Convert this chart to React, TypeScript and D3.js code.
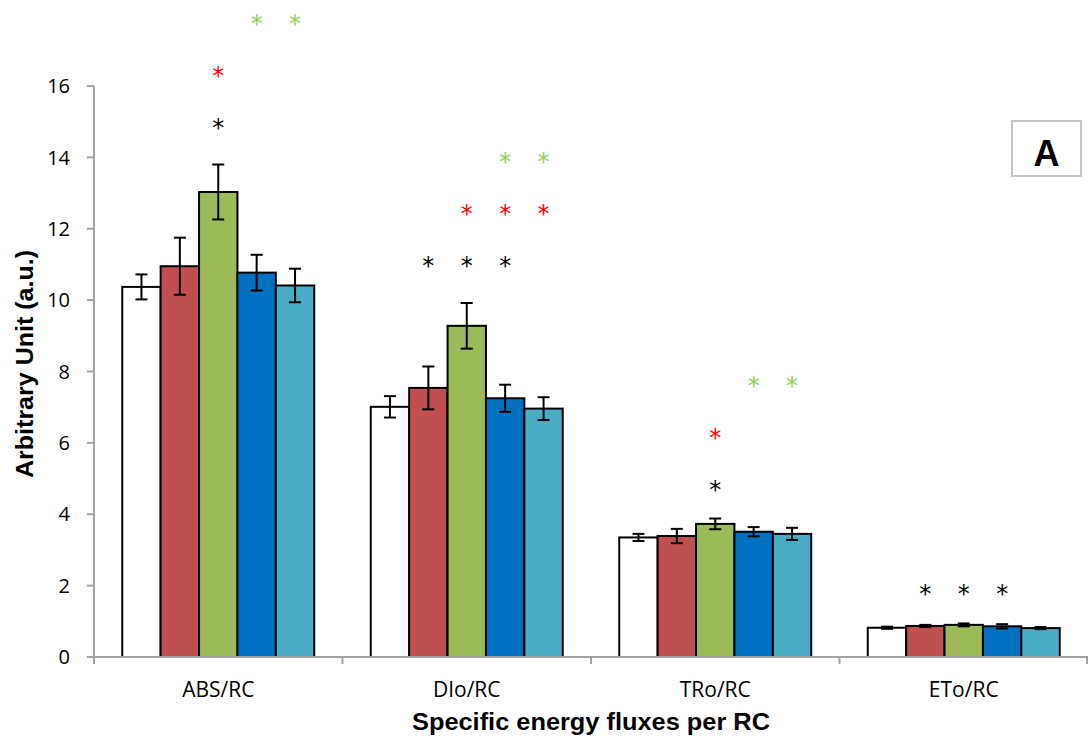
import React from "react";
import * as d3 from "d3";

// Specific energy fluxes per reaction centre, five treatments per parameter
const categories = ["ABS/RC", "DIo/RC", "TRo/RC", "ETo/RC"];
const seriesKeys = ["t1", "t2", "t3", "t4", "t5"];

const valuesT1 = [10.37, 7.01, 3.35, 0.82];
const valuesT2 = [10.95, 7.54, 3.39, 0.87];
const valuesT3 = [13.03, 9.28, 3.73, 0.9];
const valuesT4 = [10.77, 7.25, 3.51, 0.86];
const valuesT5 = [10.41, 6.96, 3.45, 0.81];

const errorsT1 = [0.35, 0.3, 0.1, 0.03];
const errorsT2 = [0.8, 0.6, 0.2, 0.03];
const errorsT3 = [0.77, 0.64, 0.15, 0.04];
const errorsT4 = [0.5, 0.38, 0.13, 0.06];
const errorsT5 = [0.47, 0.32, 0.17, 0.03];

const yTicks = [0, 2, 4, 6, 8, 10, 12, 14, 16];

// Significance marks: which treatments differ from treatment 1, 2 and 3
const sigVsT1 = [[2], [1, 2, 3], [2], [1, 2, 3]];
const sigVsT2 = [[2], [2, 3, 4], [2], []];
const sigVsT3 = [[3, 4], [3, 4], [3, 4], []];
// height (axis units) at which each row of marks sits, per category
const sigLevelVsT1 = [14.96, 11.1, 4.81, 1.9];
const sigLevelVsT2 = [16.41, 12.54, 6.28, 0];
const sigLevelVsT3 = [17.87, 14.0, 7.73, 0];

const seriesValues = [valuesT1, valuesT2, valuesT3, valuesT4, valuesT5];
const seriesErrors = [errorsT1, errorsT2, errorsT3, errorsT4, errorsT5];
const seriesFill = ["#FFFFFF", "#C0504D", "#9BBB59", "#0070C0", "#4BACC6"];
const markColors = ["#000000", "#FF0000", "#92D050"];

const W = 1088;
const H = 740;
const AXIS = "#a3a3a3";

export default function App() {
  const x = d3.scaleBand<string>().domain(categories).range([94, 1088]).padding(0);
  const bw = x.bandwidth();
  const inner = d3
    .scaleBand<string>()
    .domain(seriesKeys)
    .range([bw * 0.1137, bw * (1 - 0.1137)])
    .padding(0);
  const y = d3.scaleLinear().domain([0, 16]).range([657, 86]);

  const sigSets = [sigVsT1, sigVsT2, sigVsT3];
  const sigLevels = [sigLevelVsT1, sigLevelVsT2, sigLevelVsT3];
  const starSize = 24;

  return (
    <svg
      width={W}
      height={H}
      style={{ position: "absolute", left: 0, top: 0, background: "#fff" }}
    >
      {/* bars */}
      {categories.map((c, ci) => (
        <g key={c} transform={`translate(${x(c)},0)`}>
          {seriesKeys.map((s, si) => {
            const v = seriesValues[si][ci];
            const bx = inner(s)!;
            return (
              <rect
                key={s}
                x={bx}
                y={y(v)}
                width={inner.bandwidth()}
                height={y(0) - y(v)}
                fill={seriesFill[si]}
                stroke="#000"
                strokeWidth={2}
              />
            );
          })}
          {seriesKeys.map((s, si) => {
            const v = seriesValues[si][ci];
            const e = seriesErrors[si][ci];
            const cx = inner(s)! + inner.bandwidth() / 2;
            return (
              <g key={s} stroke="#000" strokeWidth={2}>
                <line x1={cx} x2={cx} y1={y(v + e)} y2={y(v - e)} />
                <line x1={cx - 6} x2={cx + 6} y1={y(v + e)} y2={y(v + e)} />
                <line x1={cx - 6} x2={cx + 6} y1={y(v - e)} y2={y(v - e)} />
              </g>
            );
          })}
          {sigSets.map((set, k) =>
            set[ci].map((si) => (
              <text
                key={`${k}-${si}`}
                x={inner(seriesKeys[si])! + inner.bandwidth() / 2}
                y={y(sigLevels[k][ci]) + starSize * 0.53}
                textAnchor="middle"
                fontFamily="DejaVu Sans"
                fontSize={starSize}
                fill={markColors[k]}
              >
                *
              </text>
            ))
          )}
        </g>
      ))}

      {/* y axis */}
      <line x1={94} x2={94} y1={y(16)} y2={y(0)} stroke={AXIS} strokeWidth={2} />
      {yTicks.map((t) => (
        <g key={t}>
          <line x1={87} x2={94} y1={y(t)} y2={y(t)} stroke={AXIS} strokeWidth={2} />
          <text
            x={70}
            y={y(t)}
            dy="0.36em"
            textAnchor="end"
            fontFamily="Open Sans"
            fontSize={20}
            fill="#000"
          >
            {t}
          </text>
        </g>
      ))}

      {/* x axis */}
      <line x1={94} x2={1088} y1={y(0)} y2={y(0)} stroke={AXIS} strokeWidth={2} />
      {categories.map((c) => (
        <line
          key={c}
          x1={x(c)!}
          x2={x(c)!}
          y1={y(0)}
          y2={y(0) + 7}
          stroke={AXIS}
          strokeWidth={2}
        />
      ))}
      <line x1={1087} x2={1087} y1={y(0)} y2={y(0) + 7} stroke={AXIS} strokeWidth={2} />
      {categories.map((c) => (
        <text
          key={c}
          x={x(c)! + bw / 2}
          y={697}
          textAnchor="middle"
          fontFamily="Open Sans"
          fontSize={21}
          fill="#000"
        >
          {c}
        </text>
      ))}

      {/* axis titles */}
      <text
        x={591}
        y={730}
        textAnchor="middle"
        fontFamily="Liberation Sans, Arial, sans-serif"
        fontWeight="bold"
        fontSize={23}
        textLength={358}
        lengthAdjust="spacingAndGlyphs"
        fill="#000"
      >
        Specific energy fluxes per RC
      </text>
      <text
        transform="translate(33,364) rotate(-90)"
        textAnchor="middle"
        fontFamily="Liberation Sans, Arial, sans-serif"
        fontWeight="bold"
        fontSize={23}
        textLength={228}
        lengthAdjust="spacingAndGlyphs"
        fill="#000"
      >
        Arbitrary Unit (a.u.)
      </text>

      {/* panel letter */}
      <rect x={1012} y={121} width={69} height={55} fill="#fff" stroke="#c4c4c4" strokeWidth={2} />
      <text
        x={1046.5}
        y={166}
        textAnchor="middle"
        fontFamily="Liberation Sans, Arial, sans-serif"
        fontWeight="bold"
        fontSize={36}
        fill="#000"
      >
        A
      </text>
    </svg>
  );
}
